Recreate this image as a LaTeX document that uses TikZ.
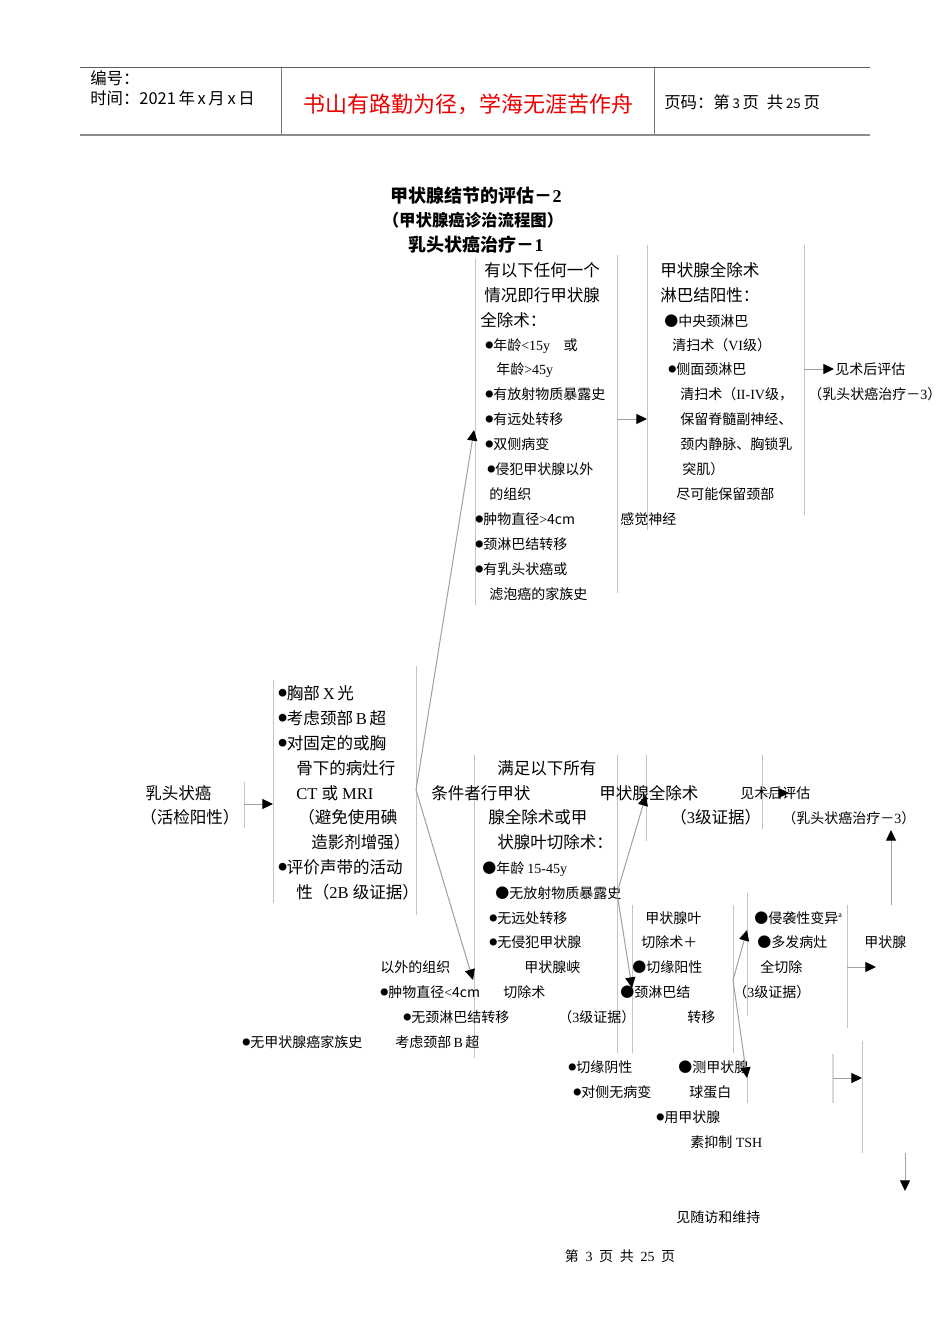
\documentclass[tikz,border=0pt]{standalone}
\usepackage{fontspec}
\setmainfont{Noto Sans CJK SC}
\newfontfamily\lat{Liberation Serif}
\usetikzlibrary{arrows.meta}
\definecolor{sepgray}{RGB}{196,196,196}
\definecolor{arrgray}{RGB}{160,160,160}
\definecolor{hdrred}{RGB}{235,0,0}
\newcommand{\smbul}{\raisebox{1.7pt}{\fontsize{6pt}{6pt}\selectfont ●}}
\newcommand{\smbulL}{\raisebox{2.3pt}{\fontsize{6.5pt}{6.5pt}\selectfont ●}}
\tikzset{
  L/.style={anchor=west, inner sep=0pt, font=\fontsize{12.4pt}{14pt}\selectfont, text height=10.9pt, text depth=1.5pt},
  S/.style={anchor=west, inner sep=0pt, font=\fontsize{10.5pt}{12pt}\selectfont, text height=9.2pt, text depth=1.3pt},
  H/.style={anchor=west, inner sep=0pt, font=\fontsize{12.3pt}{14pt}\selectfont, text height=10.5pt, text depth=1.5pt},
  T/.style={anchor=center, inner sep=0pt, font=\bfseries\fontsize{13.5pt}{15pt}\selectfont},
  sep/.style={draw=sepgray, line width=0.75pt},
  arr/.style={draw=arrgray, line width=0.75pt, -{Triangle[length=8pt,width=7.5pt,color=black]}},
}
\begin{document}
\begin{tikzpicture}[x=0.75pt,y=-0.75pt]
\useasboundingbox[fill=white] (0,0) rectangle (950,1344);

% ---------- header ----------
\draw[draw={rgb,255:red,90;green,90;blue,90}, line width=0.75pt] (80,68) -- (870,68);
\draw[draw={rgb,255:red,140;green,140;blue,140}, line width=1.5pt] (80,135) -- (870,135);
\draw[draw={rgb,255:red,120;green,120;blue,120}, line width=0.75pt] (281,68) -- (281,135);
\draw[draw={rgb,255:red,120;green,120;blue,120}, line width=0.75pt] (654,68) -- (654,135);
\node[H] (h1) at (90,79) {编号：};
\node[H] (h2) at (90,99) {时间：2021\hspace{2pt}年\hspace{2pt}x\hspace{2pt}月\hspace{2pt}x\hspace{2pt}日};
\node[anchor=center, inner sep=0pt, text=hdrred, font=\fontsize{16.5pt}{18pt}\selectfont] (h3) at (468,104) {书山有路勤为径，学海无涯苦作舟};
\node[H] (h4) at (664,103) {页码：第\hspace{2pt}{\fontsize{10pt}{12pt}\selectfont 3}\hspace{2pt}页\hspace{6pt}共\hspace{2pt}{\fontsize{10pt}{12pt}\selectfont 25}\hspace{2pt}页};

% ---------- titles ----------
\node[T] (ti1) at (476,196) {甲状腺结节的评估－{\lat\bfseries 2}};
\node[T, font=\bfseries\fontsize{12.3pt}{14pt}\selectfont] (ti2) at (473,220) {（甲状腺癌诊治流程图）};
\node[T] (ti3) at (476,245) {乳头状癌治疗－{\lat\bfseries 1}};

% ---------- separators ----------
\draw[sep] (475,258) -- (475,605);
\draw[sep] (617,255) -- (617,593);
\draw[sep] (647,245) -- (647,530);
\draw[sep] (804,245) -- (804,515);
\draw[sep] (244,782) -- (244,828);
\draw[sep] (273,680) -- (273,903);
\draw[sep] (416,666) -- (416,915);
\draw[sep] (474,755) -- (474,1058);
\draw[sep] (617,755) -- (617,1053);
\draw[sep] (632,905) -- (632,1053);
\draw[sep] (646,755) -- (646,841);
\draw[sep] (762,755) -- (762,829);
\draw[sep] (733,905) -- (733,1053);
\draw[sep] (747,893) -- (747,1016);
\draw[sep] (747,1075) -- (747,1103);
\draw[sep] (847,905) -- (847,1028);
\draw[draw={rgb,255:red,215;green,215;blue,215}, line width=1.5pt] (833,1054) -- (833,1103);
\draw[sep] (862,1041) -- (862,1153);

% ---------- top-middle block ----------
\node[L] (t01) at (484,270) {有以下任何一个};
\node[L] (t02) at (484,295) {情况即行甲状腺};
\node[L] (t03) at (480,320) {全除术：};
\node[S] (t04) at (485,345) {\smbul 年龄{\lat <15y}\hspace{10pt}或};
\node[S] (t05) at (496,369) {年龄{\lat >45y}};
\node[S] (t06) at (485,394) {\smbul 有放射物质暴露史};
\node[S] (t07) at (485,419) {\smbul 有远处转移};
\node[S] (t08) at (485,444) {\smbul 双侧病变};
\node[S] (t09) at (487,469) {\smbul 侵犯甲状腺以外};
\node[S] (t10) at (489,494) {的组织};
\node[S] (t11) at (475,519) {\smbul 肿物直径{\lat >}4cm};
\node[S] (t12) at (475,544) {\smbul 颈淋巴结转移};
\node[S] (t13) at (475,569) {\smbul 有乳头状癌或};
\node[S] (t14) at (489,594) {滤泡癌的家族史};

% ---------- top-right block ----------
\node[L] (r01) at (660,270) {甲状腺全除术};
\node[L] (r02) at (660,295) {淋巴结阳性：};
\node[S] (r03) at (664,321) {●中央颈淋巴};
\node[S] (r04) at (672,345) {清扫术（{\lat VI}级）};
\node[S] (r05) at (668,369) {\smbul 侧面颈淋巴};
\node[S] (r06) at (680,394) {清扫术（{\lat II-IV}级，};
\node[S] (r07) at (680,419) {保留脊髓副神经、};
\node[S] (r08) at (680,444) {颈内静脉、胸锁乳};
\node[S] (r09) at (682,469) {突肌）};
\node[S] (r10) at (676,494) {尽可能保留颈部};
\node[S] (r11) at (620,519) {感觉神经};
\node[S] (r12) at (835,369) {见术后评估};
\node[S] (r13) at (808,394) {（乳头状癌治疗－{\lat 3}）};

% ---------- left block ----------
\node[L] (l00a) at (145,793) {乳头状癌};
\node[L] (l00b) at (140,817) {（活检阳性）};
\node[L] (l01) at (278,693) {\smbulL 胸部{\lat\,X\,}光};
\node[L] (l02) at (278,718) {\smbulL 考虑颈部{\lat\,B\,}超};
\node[L] (l03) at (278,743) {\smbulL 对固定的或胸};
\node[L] (l04) at (296,768) {骨下的病灶行};
\node[L] (l05) at (296,793) {{\lat CT }或{\lat\ MRI}};
\node[L] (l06) at (298,817) {（避免使用碘};
\node[L] (l07) at (311,842) {造影剂增强）};
\node[L] (l08) at (278,867) {\smbulL 评价声带的活动};
\node[L] (l09) at (296,892) {性（{\lat 2B }级证据）};

% ---------- middle block ----------
\node[L] (m01) at (497,768) {满足以下所有};
\node[L] (m02) at (431,793) {条件者行甲状};
\node[L] (m03) at (488,817) {腺全除术或甲};
\node[L] (m04) at (497,842) {状腺叶切除术：};
\node[S] (m05) at (482,868) {●年龄\ {\lat 15-45y}};
\node[S] (m06) at (495,893) {●无放射物质暴露史};
\node[S] (m07) at (489,918) {\smbul 无远处转移};
\node[S] (m08) at (489,942) {\smbul 无侵犯甲状腺};
\node[S] (m09) at (380,967) {以外的组织};
\node[S] (m10) at (380,992) {\smbul 肿物直径{\lat <}4cm};
\node[S] (m11) at (403,1017) {\smbul 无颈淋巴结转移};
\node[S] (m12) at (242,1042) {\smbul 无甲状腺癌家族史};
\node[S] (m13) at (395,1042) {考虑颈部{\lat\,B\,}超};
\node[S] (m14) at (524,967) {甲状腺峡};
\node[S] (m15) at (503,992) {切除术};
\node[S] (m16) at (558,1017) {（{\lat 3}级证据）};

% ---------- right-middle block ----------
\node[L] (n01) at (599,793) {甲状腺全除术};
\node[L] (n02) at (670,817) {（{\lat 3}级证据）};
\node[S] (n03) at (740,793) {见术后评估};
\node[S] (n04) at (782,818) {（乳头状癌治疗－{\lat 3}）};
\node[S] (n05) at (645,918) {甲状腺叶};
\node[S] (n06) at (641,942) {切除术＋};
\node[S] (n07) at (632,967) {●切缘阳性};
\node[S] (n08) at (620,992) {●颈淋巴结};
\node[S] (n09) at (687,1017) {转移};
\node[S] (n10) at (568,1067) {\smbul 切缘阴性};
\node[S] (n11) at (573,1092) {\smbul 对侧无病变};
\node[S] (n12) at (678,1067) {●测甲状腺};
\node[S] (n13) at (689,1092) {球蛋白};
\node[S] (n14) at (656,1117) {\smbul 用甲状腺};
\node[S] (n15) at (690,1142) {素抑制{\lat\ TSH}};
\node[S] (n16) at (676,1217) {见随访和维持};
\node[S] (n17) at (754,918) {●侵袭性变异\raisebox{4pt}{\fontsize{6pt}{6pt}\selectfont\lat a}};
\node[S] (n18) at (757,942) {●多发病灶};
\node[S] (n19) at (760,967) {全切除};
\node[S] (n20) at (733,992) {（{\lat 3}级证据）};
\node[S] (n21) at (864,942) {甲状腺};

% ---------- footer ----------
\node[anchor=center, inner sep=0pt, font=\fontsize{10.5pt}{12pt}\selectfont] (ft) at (620,1256) {第\hspace{5pt}{\lat 3}\hspace{5pt}页\hspace{5pt}共\hspace{5pt}{\lat 25}\hspace{5pt}页};

% ---------- connector coordinates ----------
\coordinate (a1s) at (244,804);  \coordinate (a1e) at (273,804);
\coordinate (a2s) at (416,790);  \coordinate (a2e) at (474,430);
\coordinate (a3e) at (473,980);
\coordinate (a4s) at (617,419);  \coordinate (a4e) at (647,419);
\coordinate (a5s) at (804,369);  \coordinate (a5e) at (834,369);
\coordinate (a6s) at (617,893);  \coordinate (a6e) at (646,795);
\coordinate (a7e) at (632,988);
\coordinate (a8s) at (762,793);  \coordinate (a8e) at (789,793);
\coordinate (a9s) at (733,980);  \coordinate (a9e) at (747,930);
\coordinate (a10e) at (747,1078);
\coordinate (a11s) at (847,967); \coordinate (a11e) at (876,967);
\coordinate (a12s) at (891,905); \coordinate (a12e) at (891,830);
\coordinate (a13s) at (833,1078); \coordinate (a13e) at (862,1078);
\coordinate (a14s) at (905,1153); \coordinate (a14e) at (905,1191);

\draw[arr] (a1s) -- (a1e);
\draw[arr] (a2s) -- (a2e);
\draw[arr] (a2s) -- (a3e);
\draw[arr] (a4s) -- (a4e);
\draw[arr] (a5s) -- (a5e);
\draw[arr] (a6s) -- (a6e);
\draw[arr] (a6s) -- (a7e);
\draw[arr] (a8s) -- (a8e);
\draw[arr] (a9s) -- (a9e);
\draw[arr] (a9s) -- (a10e);
\draw[arr] (a11s) -- (a11e);
\draw[arr] (a12s) -- (a12e);
\draw[arr] (a13s) -- (a13e);
\draw[arr] (a14s) -- (a14e);
\end{tikzpicture}
\end{document}
